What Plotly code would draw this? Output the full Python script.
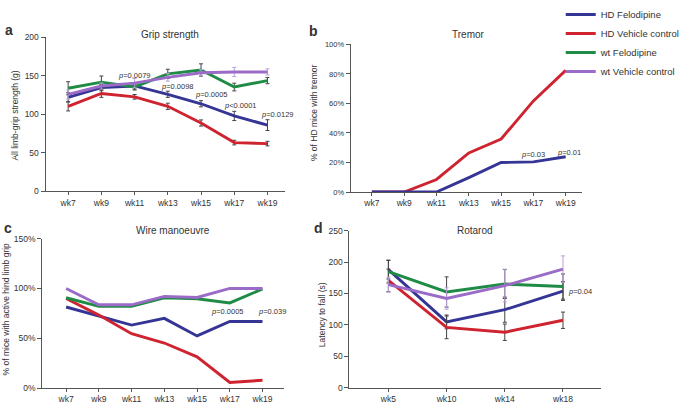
import plotly.graph_objects as go

W, H = 685, 407

# ---------------- data ----------------
weeks_a = ["wk7", "wk9", "wk11", "wk13", "wk15", "wk17", "wk19"]
weeks_d = ["wk5", "wk10", "wk14", "wk18"]
series_names = ["HD Felodipine", "HD Vehicle control", "wt Felodipine", "wt Vehicle control"]

grip_hd_felo = [122, 134.6, 136.8, 126, 113.7, 97.9, 86]
grip_hd_veh = [110.4, 127, 122.7, 110.4, 88.7, 63.3, 62]
grip_wt_felo = [133.8, 141.7, 135.5, 152.5, 157.5, 135.4, 143.7]
grip_wt_veh = [125.8, 136.7, 140.5, 148, 154, 155, 155]
grip_err_hd_felo = [6, 4, 4, 4, 4, 6, 7]
grip_err_hd_veh = [6, 5, 3, 4, 4, 3, 3]
grip_err_wt_felo = [8.5, 8, 4, 6, 8, 5, 4]
grip_err_wt_veh = [6, 4, 6, 5, 4, 6, 4]

tremor_hd_felo = [0, 0, 0, 9.8, 20, 20.4, 23.9]
tremor_hd_veh = [0, 0, 8.5, 26.5, 35.9, 61.7, 82.4]

wire_hd_felo = [81.4, 72.7, 63.3, 70, 52.4, 66.9, 66.9]
wire_hd_veh = [90, 73.3, 54.7, 45.3, 31.5, 5.8, 8]
wire_wt_felo = [90.7, 82, 82, 90.7, 89.7, 85.5, 99.5]
wire_wt_veh = [100, 83.6, 83.6, 92, 91, 100, 100]

rota_hd_felo = [188, 104.8, 124.2, 153.9]
rota_hd_veh = [170.8, 96.1, 88.4, 107.4]
rota_wt_felo = [184.6, 152.4, 165, 161]
rota_wt_veh = [164, 142, 162.6, 188.7]
rota_err_hd_felo = [15, 11, 20, 15]
rota_err_hd_veh = [18, 18, 13, 13]
rota_err_wt_felo = [18, 24, 23, 20]
rota_err_wt_veh = [12, 17, 26, 21]

# ---------------- style ----------------
colors = ["#343594", "#cf2330", "#1f8b45", "#9a6cc8"]
err_colors = ["#444444", "#444444", "#444444", "#b9a0d8"]
axc = "#555555"
txt = "#333333"
FONT = "Liberation Sans, Arial, sans-serif"
TICK = 8.5

fig = go.Figure()

def px(x):
    return x / W

def py(y):
    return 1 - y / H

def add_series(xs, ys, idx, xa, ya, err=None, showlegend=False):
    kw = {}
    if err is not None:
        kw["error_y"] = dict(type="data", array=err, visible=True,
                             color=err_colors[idx], thickness=1, width=2)
    fig.add_trace(go.Scatter(
        x=xs, y=ys, mode="lines", name=series_names[idx],
        line=dict(color=colors[idx], width=2.9),
        xaxis=xa, yaxis=ya, showlegend=showlegend, legendgroup=series_names[idx],
        **kw))

# Panel a
grip = [grip_hd_felo, grip_hd_veh, grip_wt_felo, grip_wt_veh]
grip_err = [grip_err_hd_felo, grip_err_hd_veh, grip_err_wt_felo, grip_err_wt_veh]
for i in range(4):
    add_series(weeks_a, grip[i], i, "x", "y", err=grip_err[i], showlegend=True)

# Panel b (HD only)
add_series(weeks_a, tremor_hd_veh, 1, "x2", "y2")
add_series(weeks_a, tremor_hd_felo, 0, "x2", "y2")

# Panel c
wire = [wire_hd_felo, wire_hd_veh, wire_wt_felo, wire_wt_veh]
for i in range(4):
    add_series(weeks_a, wire[i], i, "x3", "y3")

# Panel d
rota = [rota_hd_felo, rota_hd_veh, rota_wt_felo, rota_wt_veh]
rota_err = [rota_err_hd_felo, rota_err_hd_veh, rota_err_wt_felo, rota_err_wt_veh]
for i in range(4):
    add_series(weeks_d, rota[i], i, "x4", "y4", err=rota_err[i])

def xax(domain, rng, anchor):
    return dict(domain=domain, range=rng, type="category", anchor=anchor,
                showline=True, linecolor=axc, linewidth=1, ticks="outside",
                ticklen=3, tickcolor=axc, showgrid=False, zeroline=False,
                tickfont=dict(size=TICK, color=txt, family=FONT))

def yax(domain, rng, anchor, dtick, suffix="", size=TICK):
    return dict(domain=domain, range=rng, anchor=anchor, dtick=dtick,
                ticksuffix=suffix, showline=True, linecolor=axc, linewidth=1,
                ticks="outside", ticklen=4, tickcolor=axc, showgrid=False,
                zeroline=False, tickfont=dict(size=size, color=txt, family=FONT))

fig.update_layout(
    width=W, height=H,
    margin=dict(l=0, r=0, t=0, b=0),
    paper_bgcolor="white", plot_bgcolor="white",
    font=dict(family=FONT, color=txt),
    xaxis=xax([px(46.7), px(292)], [-0.68, 6.52], "y"),
    yaxis=yax([py(188.3), py(28.3)], [0, 200], "x", 50),
    xaxis2=xax([px(359.5), px(597)], [-0.66, 6.51], "y2"),
    yaxis2=yax([py(189), py(35.7)], [0, 100], "x2", 20, "%", size=7.5),
    xaxis3=xax([px(43.3), px(291.7)], [-0.73, 6.67], "y3"),
    yaxis3=yax([py(392.7), py(237.3)], [0, 150], "x3", 50, "%"),
    xaxis4=xax([px(358.3), px(616.7)], [-0.67, 3.66], "y4"),
    yaxis4=yax([py(392.3), py(229)], [0, 250], "x4", 50),
    legend=dict(x=px(575), y=py(-10.5), xanchor="left", yanchor="top",
                font=dict(size=9.5, color=txt, family=FONT),
                bgcolor="rgba(0,0,0,0)", itemwidth=30, traceorder="normal"),
)

ann = []
def text(x, y, s, size=9, **kw):
    d = dict(x=px(x), y=py(y), xref="paper", yref="paper", text=s, showarrow=False,
             font=dict(size=size, color=kw.pop("color", txt), family=FONT),
             xanchor=kw.pop("xanchor", "center"), yanchor=kw.pop("yanchor", "middle"))
    d.update(kw)
    ann.append(d)

# panel letters
text(9, 21, "<b>a</b>", size=14)
text(321, 22, "<b>b</b>", size=14)
text(8, 226, "<b>c</b>", size=14)
text(327, 226, "<b>d</b>", size=14)

# titles
text(174, 25, "Grip strength", size=10)
text(480, 25, "Tremor", size=10)
text(177, 229, "Wire manoeuvre", size=10)
text(487, 229, "Rotarod", size=10)

# axis titles
text(15, 110, "All limb-grip strength (g)", size=8.5, textangle=-90)
text(322, 107, "% of HD mice with tremor", size=8.5, textangle=-90)
text(6, 310, "% of mice with active hind limb grip", size=8.5, textangle=-90)
text(331, 316, "Latency to fall (s)", size=8.5, textangle=-90)

# p-values
pv = 7.5
text(138, 68.3, "<i>p</i>=0.0079", size=pv)
text(181.7, 79.3, "<i>p</i>=0.0098", size=pv)
text(216.7, 87.7, "<i>p</i>=0.0005", size=pv)
text(246.7, 99.3, "<i>p</i><0.0001", size=pv)
text(285, 108.3, "<i>p</i>=0.0129", size=pv)
text(546.7, 150, "<i>p</i>=0.03", size=pv)
text(583, 147.7, "<i>p</i>=0.01", size=pv)
text(233, 313, "<i>p</i>=0.0005", size=pv)
text(278.7, 313, "<i>p</i>=0.039", size=pv)
text(580, 292.3, "<i>p</i>=0.04", size=pv, xanchor="left")

fig.update_layout(annotations=ann)
fig.write_html(
    "out.html",
    config={"displayModeBar": False},
    post_script="document.body.style.margin='0';document.body.style.overflow='hidden';",
)
